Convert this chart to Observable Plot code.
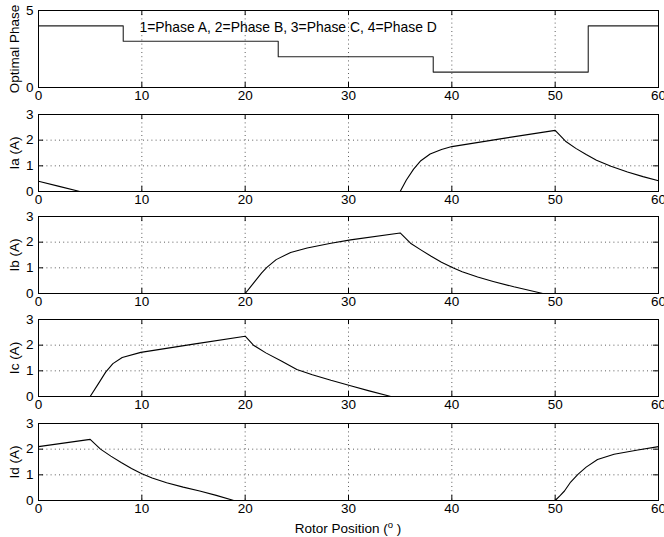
<!DOCTYPE html>
<html>
<head>
<meta charset="utf-8">
<script src="https://cdn.jsdelivr.net/npm/d3@7"></script>
<script src="https://cdn.jsdelivr.net/npm/@observablehq/plot@0.6"></script>
<style>
  body { margin: 0; background: #fff; }
  #chart { position: relative; width: 664px; height: 537px; overflow: hidden; font-family: "Liberation Sans", Arial, sans-serif; }
  #chart svg { position: absolute; left: 0; }
  #xlabel { position: absolute; left: 38px; width: 620px; top: 521px; text-align: center; font-size: 13.5px; line-height: 15px; color: #000; }
  #xlabel .deg { position: relative; top: -5px; font-size: 9.5px; }
</style>
</head>
<body>
<div id="chart"><div id="xlabel">Rotor Position (<span class="deg">o</span> )</div></div>
<script>
// ---- data ----
const xTicks = [0, 10, 20, 30, 40, 50, 60];
const phaseTicks = [0, 5];
const currentTicks = [0, 1, 2, 3];

const phaseLegend = "1=Phase A, 2=Phase B, 3=Phase C, 4=Phase D";

const phaseX = [0, 8.2, 23.2, 38.2, 53.2, 60];
const phaseY = [4, 3, 2, 1, 4, 4];

const iaX = [0, 2.0, 4.0, 35.0, 35.6, 36.3, 37.0, 37.9, 39.0, 40.0, 45.0, 50.0, 51.0, 52.0, 53.0, 54.0, 55.4, 57.0, 58.5, 60];
const iaY = [0.40, 0.20, 0, 0, 0.45, 0.87, 1.20, 1.46, 1.64, 1.75, 2.07, 2.38, 1.96, 1.68, 1.44, 1.22, 0.98, 0.76, 0.58, 0.42];

const ibX = [0, 20.0, 20.5, 21.0, 21.6, 22.1, 23.0, 24.4, 26.0, 28.3, 30.2, 35.0, 36.0, 37.0, 38.0, 39.0, 40.1, 41.0, 42.5, 44.0, 46.0, 48.8, 60];
const ibY = [0, 0, 0.25, 0.50, 0.80, 1.02, 1.32, 1.60, 1.77, 1.96, 2.09, 2.36, 1.96, 1.70, 1.45, 1.22, 1.00, 0.85, 0.64, 0.47, 0.26, 0, 0];

const icX = [0, 5.0, 5.8, 6.5, 7.2, 8.1, 9.9, 15.0, 20.0, 20.8, 22.0, 23.5, 25.0, 26.5, 28.3, 30.2, 32.0, 34.1, 60];
const icY = [0, 0, 0.50, 0.95, 1.28, 1.52, 1.72, 2.04, 2.35, 2.00, 1.70, 1.38, 1.05, 0.85, 0.63, 0.42, 0.22, 0, 0];

const idX = [0, 5.0, 6.0, 7.0, 8.0, 9.0, 10.0, 11.0, 12.4, 14.0, 15.6, 17.2, 18.9, 50.0, 50.5, 50.9, 51.5, 52.2, 53.0, 54.1, 55.7, 58.0, 60];
const idY = [2.10, 2.38, 2.00, 1.73, 1.48, 1.25, 1.04, 0.88, 0.69, 0.52, 0.37, 0.20, 0, 0, 0.20, 0.37, 0.72, 1.02, 1.30, 1.60, 1.80, 1.97, 2.10];

// ---- panels ----
const W = 664, ML = 38, MR = 6, MT = 10, FH = 77;
const innerW = W - ML - MR;

function panel({x, y, curve, yDomain, yTicks, label, top, last, extra = [], stroke = "#000"}) {
  const data = x.map((v, i) => ({x: v, y: y[i]}));
  const innerX = xTicks.slice(1, -1);
  const innerY = yTicks.slice(1, -1);
  const MB = last ? 37 : 16;
  const dots = {stroke: "#333", strokeWidth: 0.8, strokeDasharray: "1,3.2", strokeOpacity: 1};
  const svg = Plot.plot({
    width: W,
    height: MT + FH + MB,
    marginLeft: ML, marginRight: MR, marginTop: MT, marginBottom: MB,
    style: {fontFamily: "'Liberation Sans', Arial, sans-serif", fontSize: "13px", color: "#000", background: "transparent"},
    x: {domain: [0, 60]},
    y: {domain: yDomain},
    marks: [
      Plot.gridX(innerX, dots),
      Plot.gridY(innerY, dots),
      Plot.line(data, {x: "x", y: "y", curve: curve || "linear", stroke, strokeWidth: 1.1}),
      Plot.tickX(innerX, {x: d => d, stroke: "#000", insetBottom: FH - 5}),
      Plot.tickX(innerX, {x: d => d, stroke: "#000", insetTop: FH - 5}),
      Plot.tickY(innerY, {y: d => d, stroke: "#000", insetRight: innerW - 5}),
      Plot.tickY(innerY, {y: d => d, stroke: "#000", insetLeft: innerW - 5}),
      Plot.frame({stroke: "#000", strokeWidth: 1}),
      Plot.axisX(xTicks, {tickSize: 0, tickPadding: 3, fontSize: 13.5, label: null}),
      Plot.axisY(yTicks, {tickSize: 0, tickPadding: 5, fontSize: 13.5, label: null}),
      Plot.text([label], {frameAnchor: "left", dx: -24, rotate: -90, textAnchor: "middle", lineAnchor: "middle", fontSize: 13.5, fill: "#000"}),
      ...extra
    ]
  });
  svg.style.top = top + "px";
  return svg;
}

const chart = document.getElementById("chart");
chart.appendChild(panel({
  x: phaseX, y: phaseY, curve: "step-after", yDomain: [0, 5], yTicks: phaseTicks,
  label: "Optimal Phase", top: 0, stroke: "#222",
  extra: [Plot.text([phaseLegend], {frameAnchor: "top-left", dx: 101, dy: 17, textAnchor: "start", lineAnchor: "middle", fontSize: 13.9, fill: "#000"})]
}));
chart.appendChild(panel({x: iaX, y: iaY, yDomain: [0, 3], yTicks: currentTicks, label: "Ia (A)", top: 104}));
chart.appendChild(panel({x: ibX, y: ibY, yDomain: [0, 3], yTicks: currentTicks, label: "Ib (A)", top: 206}));
chart.appendChild(panel({x: icX, y: icY, yDomain: [0, 3], yTicks: currentTicks, label: "Ic (A)", top: 309}));
chart.appendChild(panel({x: idX, y: idY, yDomain: [0, 3], yTicks: currentTicks, label: "Id (A)", top: 413, last: true}));
</script>
</body>
</html>
